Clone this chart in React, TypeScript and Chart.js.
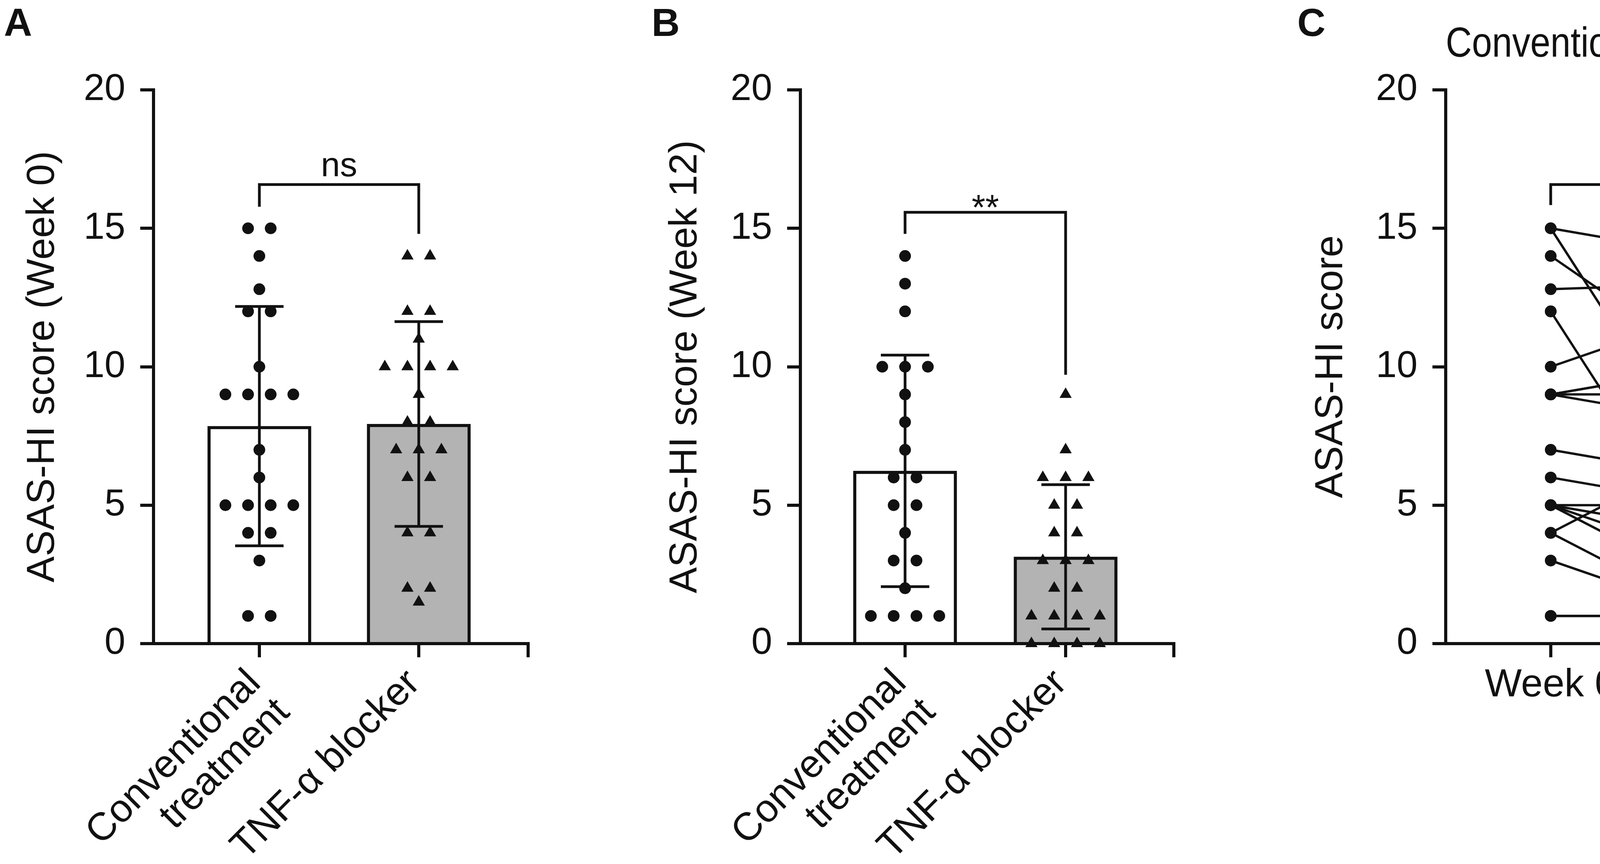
import React, { useEffect, useRef } from 'react';
import { Chart, registerables } from 'chart.js';

Chart.register(...registerables);

const FONT = "'Liberation Sans', Arial, Helvetica, sans-serif";
const INK = '#111111';
const GREY = '#b3b3b3';

// ---------------- data ----------------
const groupLabels: (string | string[])[] = [['Conventional', 'treatment'], 'TNF-α blocker'];
const weekLabels = ['Week 0', 'Week 12'];
const yTickValues = [0, 5, 10, 15, 20];

// paired patients (index i = same patient); null = no week-12 value
const conventionalWeek0 = [15, 15, 14, 12.8, 12, 12, 10, 9, 9, 9, 9, 7, 6, 5, 5, 5, 5, 4, 4, 3, 1, 1];
const conventionalWeek12: (number | null)[] = [14, 6, 10, 13, 3, null, 12, 10, 10, 9, 8, 6, 5, 5, 4, 3, 2, 7, 1, 1, 1, 1];
const tnfWeek0 = [14, 14, 12, 12, 11, 10, 10, 10, 10, 9, 8, 8, 7, 7, 7, 6, 6, 4, 4, 2, 2, 1.5];
const tnfWeek12 = [0, 3, 9, 4, 1, 6, 5, 3, 1, 7, 6, 3, 6, 4, 2, 5, 0, 1, 0, 2, 1, 0];

const panelLetters = ['A', 'B', 'C', 'D'];
const sigLabels = ['ns', '**', 'ns', '****'];
const yTitles = ['ASAS-HI score (Week 0)', 'ASAS-HI score (Week 12)', 'ASAS-HI score', 'ASAS-HI score'];
const panelTitles = ['', '', 'Conventional treatment', 'TNF-α blocker'];
// significance bracket levels in data units: [bar, left leg end, right leg end]
const bracketLevels = [
  [16.58, 15.78, 14.8],
  [15.58, 14.8, 9.71],
  [16.58, 15.84, 14.8],
  [15.58, 14.89, 9.71],
];

// ---------------- layout (pixels) ----------------
const H = 2211;
const AREA_TOP = 230;
const AREA_BOTTOM = 1647;
const JITTER = 0.142;
const layouts = [
  { left: 0, width: 1580, axisLeft: 393, axisRight: 1352, xMin: -0.664, xMax: 1.686, yTitleX: 110, tickPad: 38, letterX: 10, titleSize: 100 },
  { left: 1580, width: 1670, axisLeft: 469, axisRight: 1425, xMin: -0.652, xMax: 1.674, yTitleX: 175, tickPad: 38, letterX: 88, titleSize: 100 },
  { left: 3250, width: 1630, axisLeft: 451, axisRight: 1410, xMin: -0.654, xMax: 1.679, yTitleX: 158, tickPad: 38, letterX: 71, titleSize: 107 },
  { left: 4880, width: 1484, axisLeft: 516, axisRight: 1471, xMin: -0.662, xMax: 1.679, yTitleX: 220, tickPad: 10, letterX: 134, titleSize: 100 },
];

Chart.defaults.font.family = FONT;
Chart.defaults.color = INK;

const mean = (a: number[]) => a.reduce((s, v) => s + v, 0) / a.length;
const sd = (a: number[]) => {
  const m = mean(a);
  return Math.sqrt(a.reduce((s, v) => s + (v - m) * (v - m), 0) / (a.length - 1));
};

function jitter(values: number[], center: number) {
  const counts = new Map<number, number>();
  values.forEach((v) => counts.set(v, (counts.get(v) || 0) + 1));
  const seen = new Map<number, number>();
  return values.map((v) => {
    const n = counts.get(v)!;
    const k = seen.get(v) || 0;
    seen.set(v, k + 1);
    return { x: center + (k - (n - 1) / 2) * JITTER, y: v };
  });
}

function buildConfig(i: number): any {
  const L = layouts[i];
  const isBar = i < 2;
  const labels = isBar ? groupLabels : weekLabels;
  const datasets: any[] = [];
  let groups: number[][] = [];

  if (isBar) {
    groups =
      i === 0
        ? [conventionalWeek0, tnfWeek0]
        : [conventionalWeek12.filter((v) => v != null) as number[], tnfWeek12];
    datasets.push({
      type: 'bar',
      data: groups.map((g, k) => ({ x: k, y: mean(g) })),
      backgroundColor: ['#ffffff', GREY],
      borderColor: INK,
      borderWidth: 8,
      barThickness: 265,
      order: 2,
    });
    groups.forEach((g, k) =>
      datasets.push({
        type: 'scatter',
        data: jitter(g, k),
        pointStyle: k === 0 ? 'circle' : 'triangle',
        pointRadius: k === 0 ? 15 : 18,
        backgroundColor: INK,
        borderColor: INK,
        borderWidth: 0,
        order: 1,
        clip: false,
      })
    );
  } else {
    const w0 = i === 2 ? conventionalWeek0 : tnfWeek0;
    const w12 = i === 2 ? conventionalWeek12 : tnfWeek12;
    w0.forEach((v, p) => {
      const b = w12[p];
      datasets.push({
        type: 'line',
        data: b == null ? [{ x: 0, y: v }] : [{ x: 0, y: v }, { x: 1, y: b }],
        showLine: true,
        tension: 0,
        borderColor: INK,
        borderWidth: 6,
        pointStyle: ['circle', 'triangle'],
        pointRadius: [15, 18],
        pointBackgroundColor: INK,
        pointBorderWidth: 0,
        clip: false,
      });
    });
  }

  const annot = {
    id: 'annot' + i,
    afterDatasetsDraw(chart: any) {
      if (!isBar) return;
      const ctx = chart.ctx;
      const xs = chart.scales.x;
      const ys = chart.scales.y;
      ctx.save();
      ctx.strokeStyle = INK;
      ctx.lineWidth = 7;
      ctx.lineCap = 'butt';
      groups.forEach((g, k) => {
        const m = mean(g);
        const s = sd(g);
        const x = xs.getPixelForValue(k);
        const yHi = ys.getPixelForValue(m + s);
        const yLo = ys.getPixelForValue(m - s);
        ctx.beginPath();
        ctx.moveTo(x, yHi);
        ctx.lineTo(x, yLo);
        ctx.moveTo(x - 62, yHi);
        ctx.lineTo(x + 62, yHi);
        ctx.moveTo(x - 62, yLo);
        ctx.lineTo(x + 62, yLo);
        ctx.stroke();
      });
      ctx.restore();
    },
    afterDraw(chart: any) {
      const ctx = chart.ctx;
      const xs = chart.scales.x;
      const ys = chart.scales.y;
      const [top, lEnd, rEnd] = bracketLevels[i];
      const x0 = xs.getPixelForValue(0);
      const x1 = xs.getPixelForValue(1);
      const yTop = ys.getPixelForValue(top);
      ctx.save();
      ctx.strokeStyle = INK;
      ctx.lineWidth = 7;
      ctx.lineJoin = 'miter';
      ctx.lineCap = 'butt';
      ctx.beginPath();
      ctx.moveTo(x0, ys.getPixelForValue(lEnd));
      ctx.lineTo(x0, yTop);
      ctx.lineTo(x1, yTop);
      ctx.lineTo(x1, ys.getPixelForValue(rEnd));
      ctx.stroke();
      const label = sigLabels[i];
      const isStar = label.indexOf('*') >= 0;
      ctx.fillStyle = INK;
      ctx.textAlign = 'center';
      ctx.textBaseline = 'alphabetic';
      ctx.font = `${isStar ? 90 : 88}px ${FONT}`;
      ctx.fillText(label, (x0 + x1) / 2, yTop + (isStar ? 19 : -21));
      ctx.font = `bold 100px ${FONT}`;
      ctx.textAlign = 'left';
      ctx.fillText(panelLetters[i], L.letterX, 92);
      ctx.restore();
    },
  };

  const titleLine = L.titleSize * 1.2;
  const titlePad = (AREA_TOP - titleLine) / 2;

  return {
    type: 'scatter',
    data: { datasets },
    plugins: [annot],
    options: {
      responsive: false,
      maintainAspectRatio: false,
      devicePixelRatio: 1,
      animation: false,
      events: [],
      layout: {
        padding: { left: 0, right: L.width - L.axisRight, top: isBar ? AREA_TOP : 0, bottom: 0 },
      },
      plugins: {
        legend: { display: false },
        tooltip: { enabled: false },
        title: {
          display: !isBar,
          text: panelTitles[i],
          color: INK,
          fullSize: false,
          font: { family: FONT, size: L.titleSize, weight: 'normal', lineHeight: 1.2 },
          padding: { top: titlePad, bottom: titlePad },
        },
      },
      scales: {
        x: {
          type: 'linear',
          position: 'bottom',
          min: L.xMin,
          max: L.xMax,
          offset: false,
          bounds: 'data',
          z: 1,
          afterBuildTicks: (s: any) => {
            s.ticks = [{ value: 0 }, { value: 1 }, { value: s.max }];
          },
          ticks: {
            autoSkip: false,
            minRotation: isBar ? 45 : 0,
            maxRotation: isBar ? 45 : 0,
            padding: isBar ? 14 : 12,
            labelOffset: isBar ? -12 : 0,
            color: INK,
            font: { family: FONT, size: 100, lineHeight: isBar ? 1.05 : 1.2 },
            callback: (v: number) => (v === 0 ? labels[0] : v === 1 ? labels[1] : ''),
          },
          grid: {
            display: true,
            offset: false,
            drawOnChartArea: false,
            drawTicks: true,
            tickLength: 35,
            tickWidth: 8,
            tickColor: INK,
            lineWidth: 8,
            color: INK,
          },
          border: { display: true, width: 8, color: INK },
          afterFit: (s: any) => {
            s.height = H - AREA_BOTTOM;
          },
        },
        y: {
          type: 'linear',
          position: 'left',
          min: 0,
          max: 20,
          afterBuildTicks: (s: any) => {
            s.ticks = yTickValues.map((v) => ({ value: v }));
          },
          ticks: { padding: L.tickPad, color: INK, font: { family: FONT, size: 96 } },
          grid: {
            display: true,
            drawOnChartArea: false,
            drawTicks: true,
            tickLength: 34,
            tickWidth: 8,
            tickColor: INK,
            lineWidth: 8,
            color: INK,
          },
          border: { display: true, width: 8, color: INK },
          title: {
            display: true,
            text: yTitles[i],
            color: INK,
            font: { family: FONT, size: 100, lineHeight: 1.2 },
            padding: { top: L.yTitleX - 60, bottom: 0 },
          },
          afterFit: (s: any) => {
            s.width = L.axisLeft;
          },
        },
      },
    },
  };
}

function Panel({ index }: { index: number }) {
  const ref = useRef<HTMLCanvasElement>(null);
  useEffect(() => {
    const chart = new Chart(ref.current as HTMLCanvasElement, buildConfig(index));
    return () => chart.destroy();
  }, [index]);
  const L = layouts[index];
  return (
    <canvas
      ref={ref}
      width={L.width}
      height={H}
      style={{ position: 'absolute', left: L.left, top: 0, width: L.width, height: H }}
    />
  );
}

export default function App() {
  return (
    <div
      style={{
        position: 'absolute',
        left: 0,
        top: 0,
        width: 6364,
        height: H,
        background: '#ffffff',
        overflow: 'hidden',
      }}
    >
      {[0, 1, 2, 3].map((i) => (
        <Panel key={i} index={i} />
      ))}
    </div>
  );
}
